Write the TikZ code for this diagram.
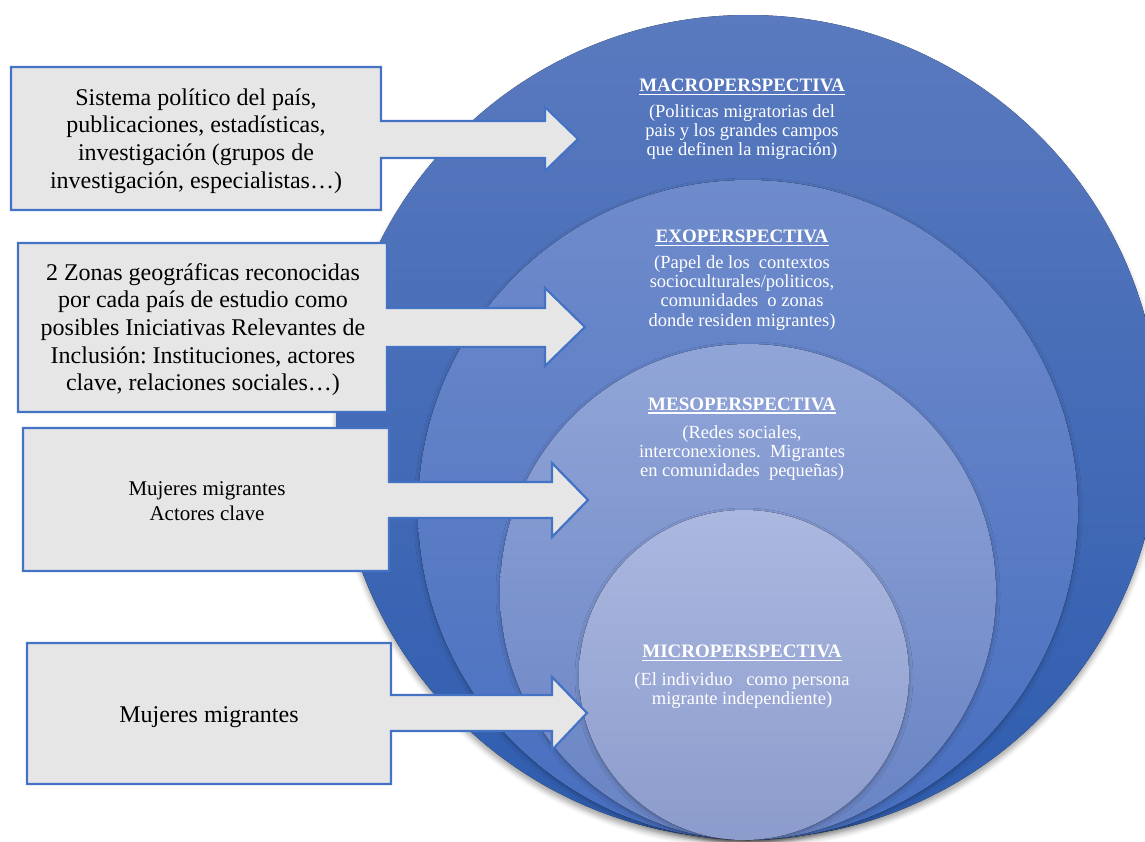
\documentclass[tikz,border=0pt]{standalone}
\usepackage{fontspec}
\setmainfont{Liberation Serif}
\usetikzlibrary{shadows.blur}
\definecolor{boxfill}{HTML}{E6E6E6}
\definecolor{boxline}{HTML}{4472C4}
\definecolor{c1top}{HTML}{5A7ABF}
\definecolor{c1bot}{HTML}{2E5CAE}
\definecolor{c2top}{HTML}{6F8BCB}
\definecolor{c2bot}{HTML}{476EBF}
\definecolor{c3top}{HTML}{91A5D7}
\definecolor{c3bot}{HTML}{6883C4}
\definecolor{c4top}{HTML}{ABB8E0}
\definecolor{c4bot}{HTML}{8B9BCB}
\newcommand\mylines[1]{\begin{tabular}[t]{@{}c@{}}#1\end{tabular}}
\frenchspacing
\begin{document}
\begin{tikzpicture}[x=1pt,y=-1pt,
  callout/.style={fill=boxfill, draw=boxline, line width=2.2pt, line join=miter},
  boxtext/.style={anchor=base, inner sep=0pt, text=black, font=\fontsize{24}{27.7}\selectfont},
  smalltext/.style={anchor=base, inner sep=0pt, text=black, font=\fontsize{21}{25}\selectfont},
  headtext/.style={anchor=base, inner sep=0pt, text=white, font=\fontsize{19}{22}\selectfont\bfseries},
  bodytext/.style={anchor=base, inner sep=0pt, text=white, font=\fontsize{18.5}{19.3}\selectfont},
  uline/.style={draw=white, line width=1.3pt},
  circshadow/.style={blur shadow={shadow xshift=0pt, shadow yshift=-2pt, shadow blur radius=4pt, shadow opacity=28}}
]
\useasboundingbox (0,0) rectangle (1145,841);
\clip (0,0) rectangle (1145,841);

% stacked circles
\fill[top color=c1top, bottom color=c1bot, blur shadow={shadow xshift=0pt, shadow yshift=-5pt, shadow blur radius=5pt, shadow opacity=35}] (748,427) circle[radius=412pt];
\fill[top color=c2top, bottom color=c2bot, circshadow] (748,510) circle[radius=330pt];
\fill[top color=c3top, bottom color=c3bot, circshadow] (748,592) circle[radius=248pt];
\fill[top color=c4top, bottom color=c4bot, circshadow] (744,675) circle[radius=165pt];

% callouts
\draw[callout] (11,67) -- (381,67) -- (381,121) -- (545,121) -- (545,107) -- (578,139)
  -- (545,171) -- (545,158) -- (381,158) -- (381,210) -- (11,210) -- cycle;
\draw[callout] (18,243) -- (387,243) -- (387,308) -- (545,308) -- (545,288) -- (585,327)
  -- (545,366) -- (545,347) -- (387,347) -- (387,412) -- (18,412) -- cycle;
\draw[callout] (23,428) -- (389,428) -- (389,482) -- (552,482) -- (552,463) -- (588,500)
  -- (552,537) -- (552,518) -- (389,518) -- (389,571) -- (23,571) -- cycle;
\draw[callout] (27,643) -- (391,643) -- (391,695) -- (552,695) -- (552,677) -- (587,713)
  -- (552,750) -- (552,731) -- (391,731) -- (391,784) -- (27,784) -- cycle;

% callout texts
\node[boxtext] (t1) at (196,105) {\mylines{Sistema político del país,\\ publicaciones, estadísticas,\\ investigación (grupos de\\ investigación, especialistas\ldots)}};
\node[boxtext] (t2) at (203,280) {\mylines{2 Zonas geográficas reconocidas\\ por cada país de estudio como\\ posibles Iniciativas Relevantes de\\ Inclusión: Instituciones, actores\\ clave, relaciones sociales\ldots)}};
\node[smalltext] (t3) at (207,495) {\mylines{Mujeres migrantes\\ Actores clave}};
\node[boxtext] (t4) at (209,722) {Mujeres migrantes};

% circle texts
\node[headtext] (h1) at (742,91.7) {MACROPERSPECTIVA};
\draw[uline] ([yshift=-3pt]h1.base west) -- ([yshift=-3pt]h1.base east);
\node[bodytext] (b1) at (742,117.3) {\mylines{(Politicas migratorias del\\ pais y los grandes campos\\ que definen la migración)}};

\node[headtext] (h2) at (742,242.7) {EXOPERSPECTIVA};
\draw[uline] ([yshift=-3pt]h2.base west) -- ([yshift=-3pt]h2.base east);
\node[bodytext] (b2) at (742,268.3) {\mylines{(Papel de los\ \ contextos\\ socioculturales/politicos,\\ comunidades\ \ o zonas\\ donde residen migrantes)}};

\node[headtext] (h3) at (742,410) {MESOPERSPECTIVA};
\draw[uline] ([yshift=-3pt]h3.base west) -- ([yshift=-3pt]h3.base east);
\node[bodytext] (b3) at (742,438.3) {\mylines{(Redes sociales,\\ interconexiones.\ \ Migrantes\\ en comunidades\ \ pequeñas)}};

\node[headtext] (h4) at (742,657.7) {MICROPERSPECTIVA};
\draw[uline] ([yshift=-3pt]h4.base west) -- ([yshift=-3pt]h4.base east);
\node[bodytext] (b4) at (742,685) {\mylines{(El individuo\ \ \ como persona\\ migrante independiente)}};
\end{tikzpicture}
\end{document}
